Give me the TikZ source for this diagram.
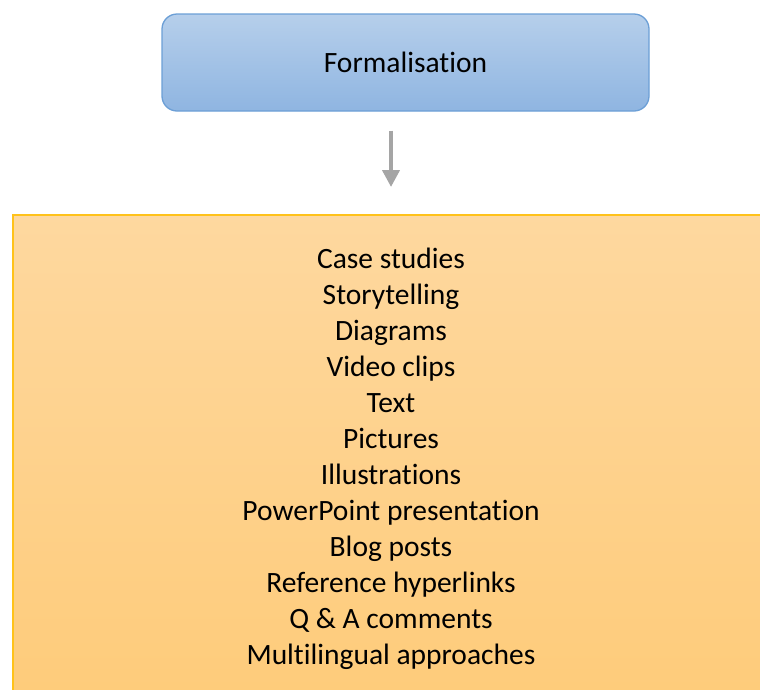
\documentclass[tikz,border=0pt]{standalone}
\usepackage{fontspec}
\setmainfont{Carlito}[Ligatures={NoCommon}]
\usetikzlibrary{arrows.meta}

\definecolor{stepTop}{HTML}{B6CFEB}
\definecolor{stepBottom}{HTML}{8FB5E1}
\definecolor{stepLine}{HTML}{6C9FD6}
\definecolor{mediaTop}{HTML}{FED89F}
\definecolor{mediaBottom}{HTML}{FECB79}
\definecolor{mediaLine}{HTML}{FFC21A}
\definecolor{arrowGray}{HTML}{A5A5A5}

\tikzset{
  stagebox/.style={draw=stepLine, line width=1.3pt, rounded corners=15pt,
    top color=stepTop, bottom color=stepBottom,
    minimum width=487pt, minimum height=97pt, inner sep=0pt,
    font=\fontsize{29.5}{35}\selectfont},
  mediabox/.style={draw=mediaLine, line width=1.6pt,
    top color=mediaTop, bottom color=mediaBottom,
    minimum width=780pt, minimum height=500pt, inner sep=0pt, anchor=north west},
  itemlist/.style={align=center, inner sep=0pt,
    font=\fontsize{29.5}{36}\selectfont},
  flow/.style={draw=arrowGray, line width=4pt,
    -{Triangle[width=17pt,length=17pt]}}
}

\begin{document}
\begin{tikzpicture}[x=1pt,y=-1pt]
  \useasboundingbox (0,0) rectangle (760,689);
  \clip (0,0) rectangle (760,689);

  % upper stage
  \node[stagebox] (formal) at (405.5,62.5) {Formalisation};

  % lower panel with the list of media
  \node[mediabox] (media) at (12,214) {};
  \node[itemlist] (items) at (391,458.5) {Case studies\\Storytelling\\Diagrams\\Video clips\\Text\\Pictures\\Illustrations\\PowerPoint presentation\\Blog posts\\Reference hyperlinks\\Q \& A comments\\Multilingual approaches};

  % connector between the two
  \draw[flow, shorten <=19pt, shorten >=27pt]
    (formal.south -| items.north) -- (items.north |- media.north);
\end{tikzpicture}
\end{document}
